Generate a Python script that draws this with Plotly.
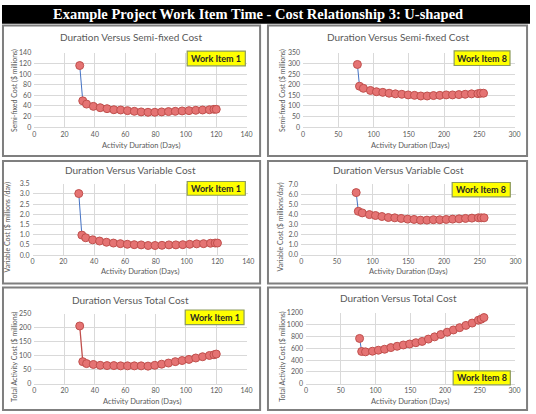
import plotly.graph_objects as go

W, H = 536, 414

# ---------------- data ----------------
wi1_days = [30, 32, 34.5, 39, 43.5, 48, 52.5, 57, 61.5, 66, 70.5, 75, 79.5, 84, 88.5, 93, 97.5, 102, 106.5, 111, 115.5, 118.5, 120]
wi1_semi = [116, 49.7, 43.6, 39.3, 36.8, 35, 33, 32.5, 31.3, 30, 28.9, 28.2, 28.2, 28.9, 29.5, 30, 30.7, 31.3, 31.9, 32.5, 33, 33.8, 33.8]
wi1_var = [3.02, 0.98, 0.85, 0.75, 0.69, 0.63, 0.59, 0.56, 0.53, 0.51, 0.50, 0.47, 0.47, 0.48, 0.50, 0.50, 0.51, 0.53, 0.55, 0.56, 0.58, 0.59, 0.59]
wi1_total = [206, 79, 72, 69, 66, 65, 65, 64, 64, 64, 64, 63, 66, 70, 74, 79, 83, 87, 92, 96.5, 101, 103.5, 106]

wi8_days = [77, 80, 85.5, 95.5, 104, 113, 122, 131, 140, 149, 158, 167, 176, 185, 194, 203, 212, 221, 230, 239, 248, 252, 256]
wi8_semi = [295, 193, 183, 173, 167, 164, 160, 157, 155, 152, 150, 147, 147, 149, 150, 152, 152, 153.5, 155, 157, 158, 160, 160]
wi8_var = [6.19, 4.33, 4.17, 4.0, 3.91, 3.81, 3.71, 3.68, 3.62, 3.55, 3.52, 3.45, 3.45, 3.49, 3.49, 3.52, 3.55, 3.58, 3.62, 3.65, 3.68, 3.68, 3.68]
wi8_total = [765, 545, 539, 550, 567, 583, 611, 633, 655, 671, 693, 715, 754, 792, 831, 870, 908, 947, 985, 1024, 1073, 1090, 1117]

x_ticks_wi1 = [0, 20, 40, 60, 80, 100, 120, 140]
x_ticks_wi8 = [0, 50, 100, 150, 200, 250, 300]
y_ticks_semi1 = [0, 20, 40, 60, 80, 100, 120, 140]
y_ticks_semi8 = [0, 50, 100, 150, 200, 250, 300, 350]
y_ticks_var1 = [0, 0.5, 1.0, 1.5, 2.0, 2.5, 3.0, 3.5]
y_ticks_var8 = [0, 1, 2, 3, 4, 5, 6, 7]
y_ticks_tot1 = [0, 50, 100, 150, 200, 250]
y_ticks_tot8 = [0, 200, 400, 600, 800, 1000, 1200]

main_title = "Example Project Work Item Time - Cost Relationship 3: U-shaped"
panel_titles = ["Duration Versus Semi-fixed Cost", "Duration Versus Semi-fixed Cost",
                "Duration Versus Variable Cost", "Duration Versus Variable Cost",
                "Duration Versus Total Cost", "Duration Versus Total Cost"]
y_titles = ["Semi-fixed Cost ($ millions)", "Semi-fixed Cost ($ millions)",
            "Variable Cost ($ millions /day)", "Variable Cost ($ millions/day)",
            "Total Activity Cost ($ millions)", "Total Activity Cost ($ millions)"]
x_title = "Activity Duration (Days)"
item_labels = ["Work Item 1", "Work Item 8", "Work Item 1", "Work Item 8", "Work Item 1", "Work Item 8"]

# ---------------- layout geometry (pixels) ----------------
FONT = "Lato"
GRAY = "#595959"
GRID = "#d9d9d9"
BLUE = "#4472C4"
RED = "#C0504D"
MFILL = "#E57373"

def px_x(p):
    return p / W

def px_y(p):
    return 1 - p / H

panels = [
    dict(days=wi1_days, vals=wi1_semi, xt=x_ticks_wi1, yt=y_ticks_semi1, xr=[0, 140], yr=[0, 140], fmt="", line=BLUE,
         plot=(32.7, 248.3, 48.7, 124.7), title=(130.5, 33), ytitle=(13, 87), xtitle=(141, 143), box=(188, 247, 47, 62)),
    dict(days=wi8_days, vals=wi8_semi, xt=x_ticks_wi8, yt=y_ticks_semi8, xr=[0, 300], yr=[0, 350], fmt="", line=BLUE,
         plot=(305.7, 520.3, 48.7, 124.7), title=(402, 33), ytitle=(285, 87), xtitle=(414, 143), box=(459, 515.7, 46.7, 61.7)),
    dict(days=wi1_days, vals=wi1_var, xt=x_ticks_wi1, yt=y_ticks_var1, xr=[0, 140], yr=[0, 3.5], fmt=".1f", line=BLUE,
         plot=(31, 250, 182.3, 255), title=(130.5, 168), ytitle=(6, 226), xtitle=(140, 272), box=(188, 247, 180, 194)),
    dict(days=wi8_days, vals=wi8_var, xt=x_ticks_wi8, yt=y_ticks_var8, xr=[0, 300], yr=[0, 7], fmt=".1f", line=BLUE,
         plot=(303.7, 521.3, 183, 254.7), title=(402, 168), ytitle=(283, 226), xtitle=(412, 272), box=(457, 516, 181, 195.7)),
    dict(days=wi1_days, vals=wi1_total, xt=x_ticks_wi1, yt=y_ticks_tot1, xr=[0, 140], yr=[0, 250], fmt="", line=RED,
         plot=(32.7, 248.3, 314.7, 386.3), title=(130.5, 300.7), ytitle=(12, 358), xtitle=(142, 404.5), box=(186, 245.7, 311, 326)),
    dict(days=wi8_days, vals=wi8_total, xt=x_ticks_wi8, yt=y_ticks_tot8, xr=[0, 300], yr=[0, 1200], fmt="", line=BLUE,
         plot=(308.7, 520.3, 313.7, 386.3), title=(402, 299), ytitle=(284, 358), xtitle=(414, 404.5), box=(458, 516, 373, 387.3)),
]

frames = [(1, 262, 21, 154), (270, 533, 21, 154),
          (1, 262, 159, 284), (270, 533, 159, 284),
          (1, 262, 288, 413), (270, 533, 288, 413)]

fig = go.Figure()
layout = dict(width=W, height=H, margin=dict(l=0, r=0, t=0, b=0),
              paper_bgcolor="white", plot_bgcolor="white", showlegend=False)
shapes = []
annotations = []

# title bar
shapes.append(dict(type="rect", xref="paper", yref="paper", x0=0, x1=1, y0=px_y(19), y1=1,
                   fillcolor="black", line=dict(width=0), layer="below"))
annotations.append(dict(text="<b>" + main_title + "</b>", x=px_x(260), y=px_y(9.5), xref="paper", yref="paper",
                        showarrow=False, xanchor="center", yanchor="middle",
                        font=dict(family="Liberation Serif", size=14.5, color="white")))

for i, p in enumerate(panels):
    n = i + 1
    xa = "xaxis" if n == 1 else f"xaxis{n}"
    ya = "yaxis" if n == 1 else f"yaxis{n}"
    xref = "x" if n == 1 else f"x{n}"
    yref = "y" if n == 1 else f"y{n}"
    x0, x1, y0, y1 = p["plot"]
    layout[xa] = dict(domain=[px_x(x0), px_x(x1)], range=p["xr"], tickvals=p["xt"], anchor=yref,
                      showgrid=True, gridcolor=GRID, gridwidth=1, zeroline=False,
                      showline=True, linecolor=GRID, linewidth=1, ticks="",
                      tickfont=dict(family=FONT, size=7, color=GRAY), fixedrange=True)
    layout[ya] = dict(domain=[px_y(y1), px_y(y0)], range=p["yr"], tickvals=p["yt"], anchor=xref,
                      tickformat=p["fmt"], showgrid=True, gridcolor=GRID, gridwidth=1, zeroline=False,
                      showline=False, ticks="", ticklabelstandoff=2,
                      tickfont=dict(family=FONT, size=7, color=GRAY), fixedrange=True)
    fig.add_trace(go.Scatter(x=p["days"], y=p["vals"], mode="lines+markers", xaxis=xref, yaxis=yref,
                             line=dict(color=p["line"], width=1.3 if p["line"] == RED else 1),
                             marker=dict(size=8, color=MFILL, line=dict(color=RED, width=1)),
                             cliponaxis=False))
    # panel frame
    fx0, fx1, fy0, fy1 = frames[i]
    shapes.append(dict(type="rect", xref="paper", yref="paper", x0=px_x(fx0), x1=px_x(fx1),
                       y0=px_y(fy1), y1=px_y(fy0), line=dict(color="#7f7f7f", width=2), layer="below"))
    # panel title
    tx, ty = p["title"]
    annotations.append(dict(text=panel_titles[i], x=px_x(tx), y=px_y(ty), xref="paper", yref="paper",
                            showarrow=False, xanchor="center", yanchor="middle",
                            font=dict(family=FONT, size=10, color=GRAY)))
    # axis titles
    yx, yy = p["ytitle"]
    annotations.append(dict(text=y_titles[i], x=px_x(yx), y=px_y(yy), xref="paper", yref="paper",
                            showarrow=False, xanchor="center", yanchor="middle", textangle=-90,
                            font=dict(family=FONT, size=7, color=GRAY)))
    xx, xy = p["xtitle"]
    annotations.append(dict(text=x_title, x=px_x(xx), y=px_y(xy), xref="paper", yref="paper",
                            showarrow=False, xanchor="center", yanchor="middle",
                            font=dict(family=FONT, size=7.5, color=GRAY)))
    # work item box
    bx0, bx1, by0, by1 = p["box"]
    shapes.append(dict(type="rect", xref="paper", yref="paper", x0=px_x(bx0), x1=px_x(bx1),
                       y0=px_y(by1), y1=px_y(by0), fillcolor="#FFFF00",
                       line=dict(color="#8c9a5b", width=1.2), layer="above"))
    annotations.append(dict(text="<b>" + item_labels[i] + "</b>", x=px_x((bx0 + bx1) / 2), y=px_y((by0 + by1) / 2),
                            xref="paper", yref="paper", showarrow=False, xanchor="center", yanchor="middle",
                            font=dict(family=FONT, size=9, color="#262626")))

layout["shapes"] = shapes
layout["annotations"] = annotations
fig.update_layout(**layout)
fig.write_html("out.html")
